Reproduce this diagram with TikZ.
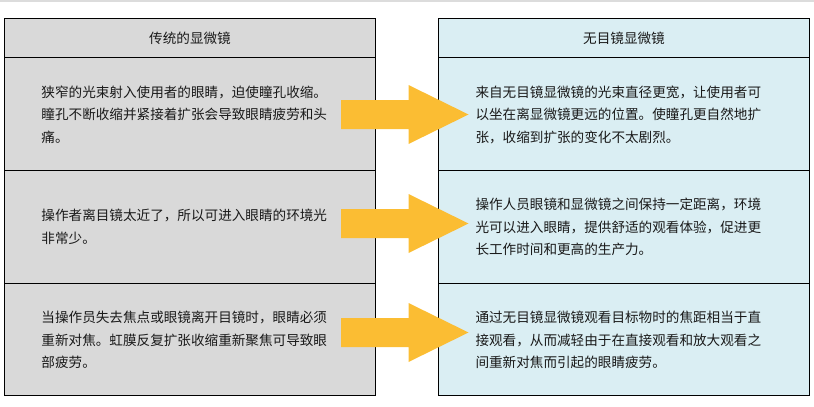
\documentclass[tikz,border=0pt]{standalone}
\usepackage{fontspec}
\newfontfamily\cjkfont{Noto Sans CJK SC}
\definecolor{oldfill}{HTML}{D9D9D9}
\definecolor{newfill}{HTML}{DAEEF3}
\definecolor{arrowc}{HTML}{FBBD33}
\definecolor{topline}{HTML}{DCDCDC}
\tikzset{
  cellbox/.style={draw=black, line width=1pt, inner sep=0pt, outer sep=0pt},
  oldcell/.style={cellbox, fill=oldfill},
  newcell/.style={cellbox, fill=newfill},
  celltext/.style={font=\cjkfont\fontsize{13.6pt}{22.5pt}\selectfont, text width=297pt, align=left, inner sep=0pt, text=black!90},
  headtext/.style={font=\cjkfont\fontsize{13.6pt}{16pt}\selectfont, inner sep=0pt, text=black!90},
  blockarrow/.style={fill=arrowc, draw=none}
}
\begin{document}
\begin{tikzpicture}[x=1pt, y=-1pt]
\useasboundingbox (0,0) rectangle (814,407);
\fill[topline] (0,0) rectangle (814,1.5);
% left table
\draw[oldcell] (4.5,18.5) rectangle (375.5,57.5);
\draw[oldcell] (4.5,57.5) rectangle (375.5,170.5);
\draw[oldcell] (4.5,170.5) rectangle (375.5,283.5);
\draw[oldcell] (4.5,283.5) rectangle (375.5,395.5);
% right table
\draw[newcell] (438.5,18.5) rectangle (809.5,57.5);
\draw[newcell] (438.5,57.5) rectangle (809.5,170.5);
\draw[newcell] (438.5,170.5) rectangle (809.5,283.5);
\draw[newcell] (438.5,283.5) rectangle (809.5,395.5);
% headers
\node[headtext] (hl) at (190,38) {传统的显微镜};
\node[headtext] (hr) at (624,38) {无目镜显微镜};
% left texts
\node[celltext] (l1) at (190,114.5) {狭窄的光束射入使用者的眼睛，迫使瞳孔收缩。\\瞳孔不断收缩并紧接着扩张会导致眼睛疲劳和头\\痛。};
\node[celltext] (l2) at (190,227) {操作者离目镜太近了，所以可进入眼睛的环境光\\非常少。};
\node[celltext] (l3) at (190,340) {当操作员失去焦点或眼镜离开目镜时，眼睛必须\\重新对焦。虹膜反复扩张收缩重新聚焦可导致眼\\部疲劳。};
% right texts
\node[celltext] (r1) at (624,114.5) {来自无目镜显微镜的光束直径更宽，让使用者可\\以坐在离显微镜更远的位置。使瞳孔更自然地扩\\张，收缩到扩张的变化不太剧烈。};
\node[celltext] (r2) at (624,227) {操作人员眼镜和显微镜之间保持一定距离，环境\\光可以进入眼睛，提供舒适的观看体验，促进更\\长工作时间和更高的生产力。};
\node[celltext] (r3) at (624,340) {通过无目镜显微镜观看目标物时的焦距相当于直\\接观看，从而减轻由于在直接观看和放大观看之\\间重新对焦而引起的眼睛疲劳。};
% arrows
\foreach \yc in {114.5,223.5,332.5}{
  \fill[blockarrow] (341,\yc-14.5) -- (408.5,\yc-14.5) -- (408.5,\yc-29.5) -- (468.5,\yc) -- (408.5,\yc+29.5) -- (408.5,\yc+14.5) -- (341,\yc+14.5) -- cycle;
}
\end{tikzpicture}
\end{document}
